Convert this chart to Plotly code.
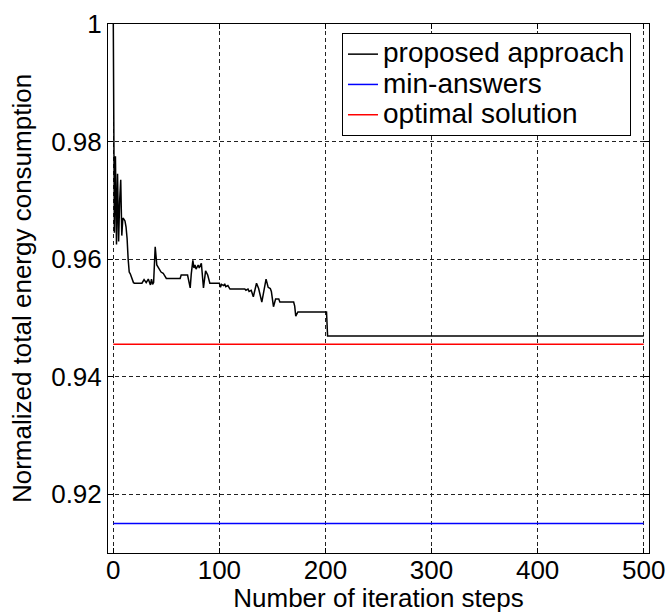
import plotly.graph_objects as go

# ---- data ----
iter_steps = [0, 1, 2, 3, 4, 5, 6, 7, 8, 9, 10, 11, 12, 13, 14, 15, 16, 17, 18, 19,
              20, 22, 27, 29, 31, 33, 35, 36, 37, 38, 39.5, 41, 43, 45, 47, 48, 50,
              63, 64, 70, 72.5, 73.5, 75, 76, 77, 78, 80, 81, 83, 85, 86, 87, 89, 90,
              91, 94, 100, 101, 102, 104, 105, 106, 108, 110, 124, 125, 127, 128, 130,
              132, 135, 137, 140, 144, 146, 148, 149, 151, 153, 156, 157, 170, 171,
              172, 174, 201, 202, 500]
proposed = [1.0, 0.9645, 0.9775, 0.9625, 0.9745, 0.9630, 0.9700, 0.9735, 0.9640, 0.9670,
            0.9668, 0.9665, 0.9655, 0.9635, 0.9600, 0.9578, 0.9575, 0.9570, 0.9562, 0.9560,
            0.9559, 0.9559, 0.9559, 0.9565, 0.9560, 0.9566, 0.9556, 0.9566, 0.9557, 0.9560,
            0.9621, 0.9590, 0.9585, 0.9578, 0.9576, 0.9572, 0.9567,
            0.9567, 0.9573, 0.9573, 0.9551, 0.9575, 0.9598, 0.9585, 0.9590, 0.9583, 0.9590,
            0.9585, 0.9593, 0.9551, 0.9570, 0.9580, 0.9573, 0.9566,
            0.9559, 0.9559, 0.9559, 0.9552, 0.9557, 0.9555, 0.9558, 0.9553, 0.9555, 0.9549,
            0.9549, 0.9547, 0.9549, 0.9545, 0.9547,
            0.9536, 0.9559, 0.9550, 0.9527, 0.9566, 0.9552, 0.9550, 0.9545, 0.9519, 0.9532,
            0.9532, 0.9527, 0.9527, 0.9520,
            0.9503, 0.9510, 0.9510, 0.9469, 0.9469]
range_steps = [0, 500]
min_answers = [0.915, 0.915]
optimal = [0.9455, 0.9455]

series_names = ["proposed approach", "min-answers", "optimal solution"]

x_ticks = [0, 100, 200, 300, 400, 500]
y_ticks = [0.92, 0.94, 0.96, 0.98, 1.0]
y_tick_text = ["0.92", "0.94", "0.96", "0.98", "1"]

FONT = "Liberation Sans, Arial, Helvetica, sans-serif"


def legend_label(text):
    # larger glyphs with the tight MATLAB-like row spacing of the legend
    return f'<span style="font-size:28px">{text}</span>'


fig = go.Figure()
fig.add_trace(go.Scatter(x=iter_steps, y=proposed, mode="lines",
                         name=legend_label(series_names[0]),
                         line=dict(color="black", width=1.5)))
fig.add_trace(go.Scatter(x=range_steps, y=min_answers, mode="lines",
                         name=legend_label(series_names[1]),
                         line=dict(color="#0000ff", width=1.5)))
fig.add_trace(go.Scatter(x=range_steps, y=optimal, mode="lines",
                         name=legend_label(series_names[2]),
                         line=dict(color="#ff0000", width=1.5)))

axis_common = dict(
    showline=True, linecolor="black", linewidth=1, mirror="ticks",
    showgrid=True, gridcolor="#222", gridwidth=1, griddash="4px,3px",
    zeroline=False, ticks="inside", ticklen=5, tickcolor="black",
    tickfont=dict(family=FONT, size=26, color="black"),
    automargin=False,
)

fig.update_layout(
    width=670, height=613,
    margin=dict(l=108, r=21, t=24, b=60, autoexpand=False),
    paper_bgcolor="white", plot_bgcolor="white",
    font=dict(family=FONT, size=26, color="black"),
    xaxis=dict(range=[-5, 505], tickvals=x_ticks, ticklabelstandoff=-6,
               title=dict(text="Number of iteration steps", standoff=12,
                          font=dict(family=FONT, size=26)),
               **axis_common),
    yaxis=dict(range=[0.91, 1.0], tickvals=y_ticks, ticktext=y_tick_text,
               title=dict(text="Normalized total energy consumption", standoff=12,
                          font=dict(family=FONT, size=26)),
               **axis_common),
    legend=dict(x=0.9667, y=0.983, xanchor="right", yanchor="top",
                bgcolor="white", bordercolor="black", borderwidth=1,
                font=dict(family=FONT, size=21, color="black"),
                itemwidth=30, tracegroupgap=0),
    showlegend=True,
)

fig.write_html("out.html")
